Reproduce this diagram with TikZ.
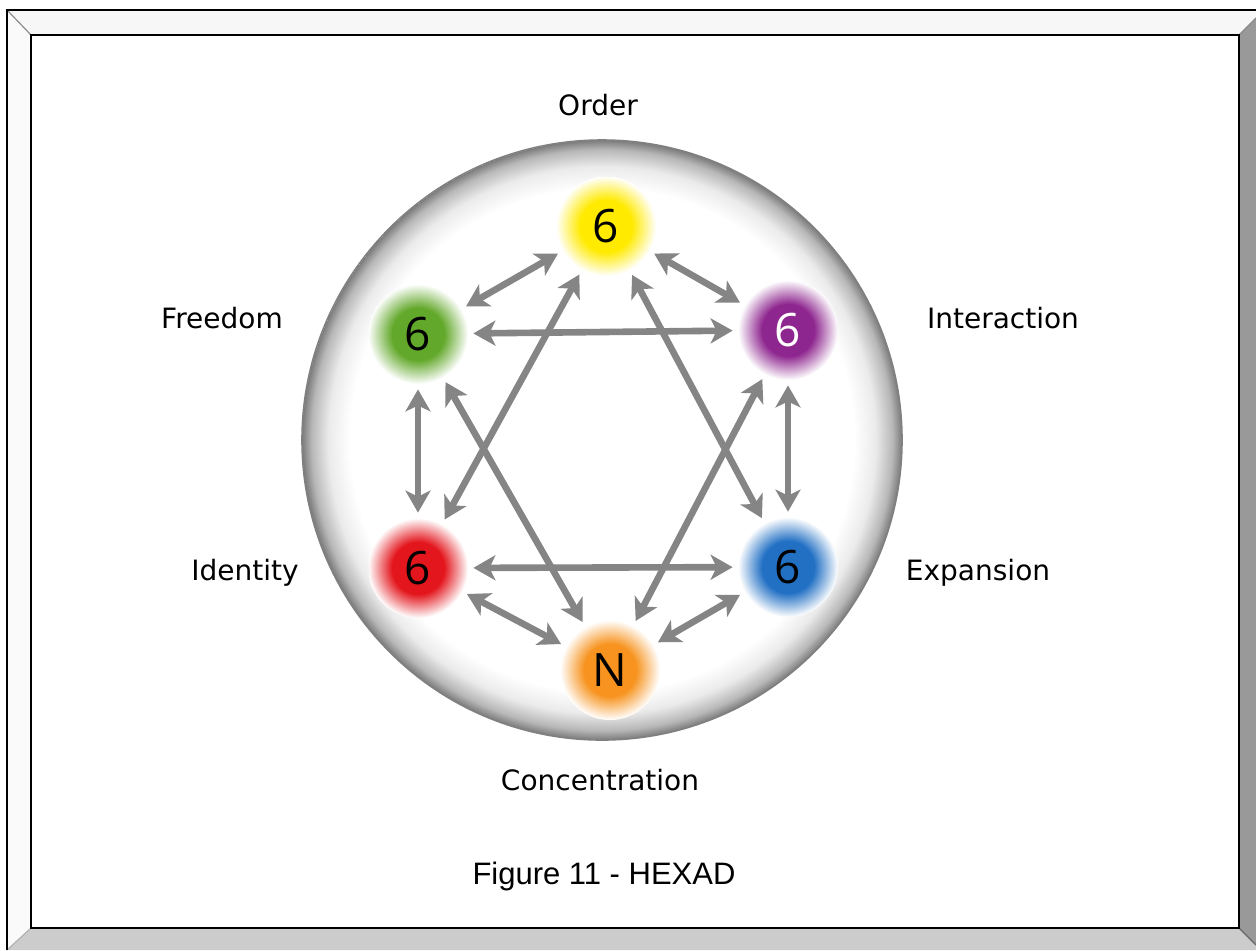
\documentclass[tikz,border=0pt]{standalone}
\usepackage{fontspec}
\setmainfont{DejaVu Sans}
\newfontfamily\capfont{Liberation Sans}
\newfontfamily\digitfont{Open Sans}
\usetikzlibrary{arrows.meta}

\definecolor{arrowgray}{HTML}{858585}
\definecolor{ordcol}{HTML}{FFEA00}
\definecolor{frecol}{HTML}{62A82A}
\definecolor{intcol}{HTML}{8E268F}
\definecolor{expcol}{HTML}{2270C4}
\definecolor{idecol}{HTML}{E3161D}
\definecolor{concol}{HTML}{F7931E}
\colorlet{glowc}{white}

% soft coloured halo behind each number
\pgfdeclareradialshading[glowc]{glow}{\pgfpoint{0bp}{0bp}}{color(0bp)=(glowc); color(13bp)=(glowc); color(25bp)=(white)}
% white disc with a grey rim
\pgfdeclareradialshading{rim}{\pgfpoint{0bp}{0bp}}{color(0bp)=(white); color(21bp)=(white); color(22.8bp)=(black!8); color(24.2bp)=(black!28); color(25bp)=(black!52)}

\begin{document}
\begin{tikzpicture}[x=0.5pt, y=-0.5pt,
    hexnode/.style={circle, minimum size=55pt, inner sep=0pt, font=\digitfont\fontsize{23}{23}\selectfont},
    link/.style={draw=arrowgray, line width=3.3pt, {Stealth[length=11pt,width=12.5pt,inset=3pt]}-{Stealth[length=11pt,width=12.5pt,inset=3pt]}},
    tag/.style={font=\fontsize{14}{16}\selectfont}]

    % 1. Frame with bevelled border
    \useasboundingbox (0,0) rectangle (1256,950);
    \fill[white] (0,0) rectangle (1256,950);
    \fill[black!3] (7,10) -- (1256,10) -- (1256,18) -- (1239,35) -- (31,35) -- cycle;
    \fill[black!2] (7,10) -- (31,35) -- (31,928) -- (7,950) -- cycle;
    \fill[black!40] (1256,18) -- (1239,35) -- (1239,928) -- (1256,945) -- cycle;
    \fill[black!20] (31,928) -- (1239,928) -- (1256,945) -- (1256,950) -- (7,950) -- cycle;
    \draw[black!45, line width=0.6pt] (7,10) -- (31,35);
    \draw[black!45, line width=0.6pt] (1256,18) -- (1239,35);
    \draw[black!30, line width=0.6pt] (7,950) -- (31,928);
    \draw[black!60, line width=0.6pt] (1256,945) -- (1239,928);
    \draw[line width=1pt] (7,950) -- (7,10) -- (1256,10);
    \draw[line width=1.2pt] (31,35) rectangle (1239,928);

    % 2. Big disc
    \shade[shading=rim] (602,440) circle (150pt);
    \draw[black!50, line width=0.8pt] (602,440) circle (150pt);

    % 3. Six glowing nodes
    \foreach \nm/\x/\y/\col/\txt/\dig in {ord/606/226/ordcol/black/6, fre/418/334/frecol/black/6,
        int/788/330/intcol/white/6, exp/788/567/expcol/black/6,
        ide/418/568/idecol/black/6, con/610/670/concol/black/N} {
        \colorlet{glowc}{\col}
        \shade[shading=glow] (\x,\y) circle (25pt);
        \node[hexnode, text=\txt] (\nm) at (\x,\y) {\dig};
    }

    % 4. Double arrows: outer ring
    \draw[link] (ord) -- (int);
    \draw[link] (int) -- (exp);
    \draw[link] (exp) -- (con);
    \draw[link] (con) -- (ide);
    \draw[link] (ide) -- (fre);
    \draw[link] (fre) -- (ord);

    % the two triangles of the star
    \draw[link] (fre) -- (int);
    \draw[link] (ide) -- (exp);
    \draw[link] (ord) -- (ide);
    \draw[link] (ord) -- (exp);
    \draw[link] (con) -- (fre);
    \draw[link] (con) -- (int);

    % 5. Labels
    \node[tag] (lord) at (598,105) {Order};
    \node[tag] (lfre) at (222,318) {Freedom};
    \node[tag] (lint) at (1003,318) {Interaction};
    \node[tag] (lide) at (245,573) {Identity};
    \node[tag] (lexp) at (978,573) {Expansion};
    \node[tag] (lcon) at (600,780) {Concentration};

    \node[font=\capfont\fontsize{15.5}{18}\selectfont] (caption) at (604,876) {Figure 11 - HEXAD};

\end{tikzpicture}
\end{document}
